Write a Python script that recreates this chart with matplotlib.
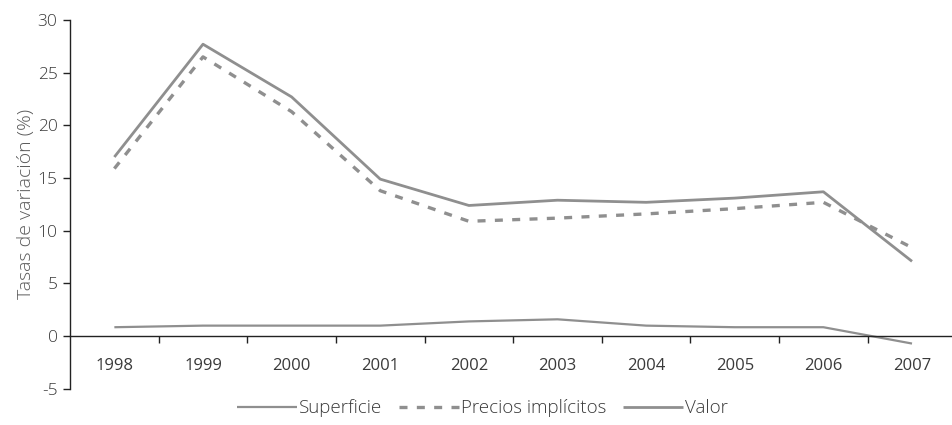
import matplotlib
matplotlib.use("Agg")
import matplotlib.pyplot as plt
from matplotlib.ticker import FixedLocator, NullFormatter

plt.rcParams['font.family'] = ['Open Sans', 'DejaVu Sans']

years = ['1998', '1999', '2000', '2001', '2002', '2003', '2004', '2005', '2006', '2007']
superficie = [0.85, 1.0, 1.0, 1.0, 1.4, 1.6, 1.0, 0.85, 0.85, -0.7]
precios = [15.9, 26.5, 21.3, 13.8, 10.9, 11.2, 11.6, 12.1, 12.7, 8.4]
valor = [17.0, 27.7, 22.7, 14.9, 12.4, 12.9, 12.7, 13.1, 13.7, 7.1]
yticks = [-5, 0, 5, 10, 15, 20, 25, 30]

line_col = '#8f8f8f'
text_col = '#3a3a3a'

fig = plt.figure(figsize=(9.53, 4.25), dpi=100)
ax = fig.add_axes([0.0735, 0.085, 0.93, 0.868])

x = list(range(len(years)))
ax.plot(x, superficie, color=line_col, lw=1.6, label='Superficie', solid_capstyle='butt')
ax.plot(x, precios, color=line_col, lw=2.4, ls=(0, (2.4, 2.8)), label='Precios implícitos')
ax.plot(x, valor, color=line_col, lw=2.0, label='Valor', solid_capstyle='butt')

ax.set_xlim(-0.5, 9.5)
ax.set_ylim(-5, 30)
ax.set_yticks(yticks)
ax.set_yticklabels([str(v) for v in yticks])

ax.set_xticks(x)
ax.set_xticklabels(years)
ax.xaxis.set_minor_locator(FixedLocator([i + 0.5 for i in range(len(years))]))
ax.xaxis.set_minor_formatter(NullFormatter())
ax.tick_params(axis='x', which='major', length=0, pad=16, labelsize=12, labelcolor=text_col)
ax.tick_params(axis='x', which='minor', length=5, width=1, color='#222222', direction='out')
ax.tick_params(axis='y', length=5, width=1, color='#222222', labelsize=12.5, labelcolor=text_col, pad=4)
for lbl in ax.get_xticklabels() + ax.get_yticklabels():
    lbl.set_fontweight('light')

for s in ['top', 'right']:
    ax.spines[s].set_visible(False)
ax.spines['bottom'].set_position(('data', 0))
ax.spines['bottom'].set_color('#222222')
ax.spines['left'].set_color('#222222')
ax.spines['bottom'].set_linewidth(1)
ax.spines['left'].set_linewidth(1)

ax.set_ylabel('Tasas de variación (%)', color='#5a5a5a', fontsize=14, labelpad=2,
              fontweight='light')

leg = fig.legend(loc='lower center', bbox_to_anchor=(0.506, -0.022), ncol=3, frameon=False,
                 fontsize=13.5, handlelength=3.2, handletextpad=0.1, columnspacing=0.9,
                 labelcolor=text_col)
for t in leg.get_texts():
    t.set_fontweight('light')

fig.savefig('out.png', dpi=100)
